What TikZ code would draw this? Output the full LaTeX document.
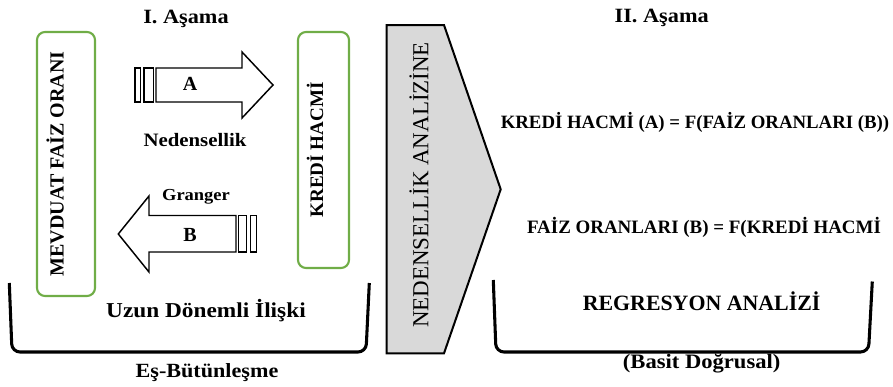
\documentclass[tikz,border=0pt]{standalone}
\usepackage{fontspec}
\setmainfont{Liberation Serif}
\newfontfamily\widefont[FakeStretch=1.1]{Liberation Serif}
\definecolor{boxgreen}{HTML}{70AD47}
\definecolor{chevgray}{HTML}{D9D9D9}
\tikzset{
  greenbox/.style={draw=boxgreen, line width=1.6pt, rounded corners=6pt},
  bigarrow/.style={draw=black, line width=1.1pt, fill=white, line join=miter},
  bracketline/.style={draw=black, line width=2.3pt, rounded corners=6pt},
  lbl/.style={anchor=base, inner sep=0pt},
}
\begin{document}
\begin{tikzpicture}[x=0.75pt,y=-0.75pt]
\useasboundingbox (0,0) rectangle (893,386);

% titles
\node[lbl,font=\widefont\bfseries\fontsize{15.2}{18}\selectfont] (t1) at (186,23.5) {I. Aşama};
\node[lbl,font=\widefont\bfseries\fontsize{15.2}{18}\selectfont] (t2) at (661.7,22) {II. Aşama};

% green boxes
\draw[greenbox] (37,32) rectangle (95,296);
\draw[greenbox] (298,32) rectangle (349,268);
\node[lbl,rotate=90,font=\bfseries\fontsize{15}{18}\selectfont] (mev) at (63.5,164) {MEVDUAT FAİZ ORANI};
\node[lbl,rotate=90,font=\bfseries\fontsize{14.3}{18}\selectfont] (kred) at (323,150) {KREDİ HACMİ};

% arrow A (right)
\draw[bigarrow] (135,68) rectangle (140.5,102);
\draw[bigarrow] (144,68) rectangle (153.5,102);
\draw[bigarrow] (156,68) -- (242,68) -- (242,52) -- (273,85) -- (242,118) -- (242,102) -- (156,102) -- cycle;
\node[lbl,font=\bfseries\fontsize{15}{18}\selectfont] (a) at (190,90) {A};
\node[lbl,font=\widefont\bfseries\fontsize{14.2}{18}\selectfont] (ned) at (195,146.7) {Nedensellik};

% arrow B (left)
\draw[bigarrow] (250.5,215.5) rectangle (256.5,252);
\draw[bigarrow] (238.5,215.5) rectangle (246.5,252);
\draw[bigarrow] (236,215.5) -- (149,215.5) -- (149,196) -- (118.3,234) -- (149,272) -- (149,252) -- (236,252) -- cycle;
\node[lbl,font=\bfseries\fontsize{15}{18}\selectfont] (b) at (190,241) {B};
\node[lbl,font=\widefont\bfseries\fontsize{12.6}{15}\selectfont] (gr) at (196,200.7) {Granger};

% left bracket
\draw[bracketline] (9.3,283) -- (12,352) -- (366,352) -- (369.3,283);
\node[lbl,font=\widefont\bfseries\fontsize{15.9}{19}\selectfont] (uzun) at (206,317.3) {Uzun Dönemli İlişki};
\node[lbl,font=\widefont\bfseries\fontsize{15.1}{18}\selectfont] (es) at (207,377.3) {Eş-Bütünleşme};

% chevron
\draw[fill=chevgray, line width=1.5pt, line join=miter] (386.7,25) -- (444,25) -- (500.7,189.3) -- (444,353.3) -- (386.7,353.3) -- cycle;
\node[lbl,rotate=90,font=\fontsize{17.2}{20}\selectfont] (nedan) at (428.3,185) {NEDENSELLİK ANALİZİNE};

% right side
\node[lbl,font=\bfseries\fontsize{14.1}{17}\selectfont] (eq1) at (695,128.3) {KREDİ HACMİ (A) = F(FAİZ ORANLARI (B))};
\node[lbl,font=\bfseries\fontsize{14.2}{17}\selectfont] (eq2) at (704,233.3) {FAİZ ORANLARI (B) = F(KREDİ HACMİ};
\draw[bracketline] (493.3,280) -- (496,352) -- (868.5,352) -- (872.3,281.5);
\node[lbl,font=\bfseries\fontsize{16.4}{19}\selectfont] (reg) at (701.6,310.7) {REGRESYON ANALİZİ};
\node[lbl,font=\widefont\bfseries\fontsize{15.4}{18}\selectfont] (bas) at (701.7,368.3) {(Basit Doğrusal)};
\end{tikzpicture}
\end{document}
